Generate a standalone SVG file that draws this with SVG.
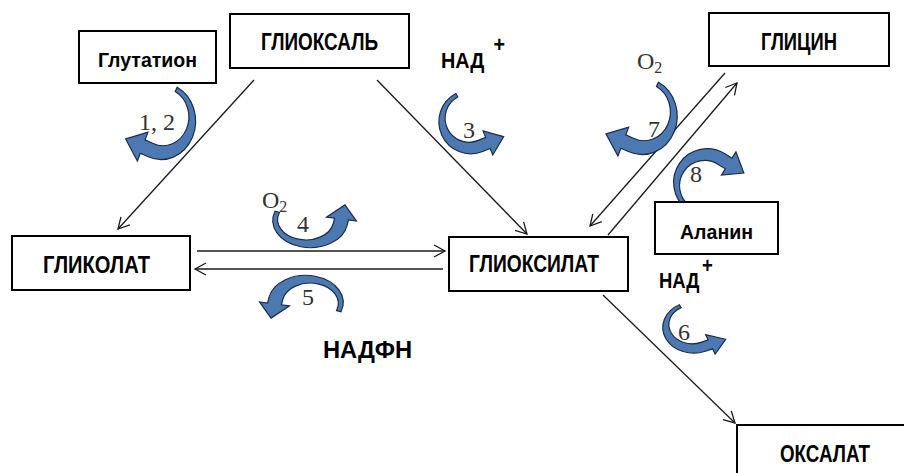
<svg xmlns="http://www.w3.org/2000/svg" xmlns:xlink="http://www.w3.org/1999/xlink" width="904" height="473" viewBox="0 0 904 473">
<style>
.box{fill:#fff;stroke:#000;stroke-width:2}
.lbl{font-family:"Liberation Sans Narrow","Liberation Sans",Arial,sans-serif;font-weight:bold;fill:#000}
.num{font-family:"Liberation Serif","Times New Roman",serif;fill:#333;font-size:24px}
.conn{stroke:#1a1a1a;stroke-width:1.3;fill:none;marker-end:url(#ah)}
.curl{fill:#4c79b2;stroke:#1c2b47;stroke-width:1.2}
</style>
<defs>
<marker id="ah" markerWidth="14" markerHeight="14" refX="11" refY="6" orient="auto" markerUnits="userSpaceOnUse" overflow="visible">
<path d="M0,0 L11,6 L0,12" fill="none" stroke="#1a1a1a" stroke-width="1.3"/>
</marker>
<path id="curl" class="curl" vector-effect="non-scaling-stroke" d="M14.08,-26.49 A32,32 0 0 1 -12.74,31.52 L-20.16,28.52 L-22.78,35.01 L-33.67,16.59 L-13.04,10.91 L-15.66,17.40 L-8.24,20.40 A24,24 0 0 0 12.21,-22.96 Z"/>
<path id="hook" class="curl" vector-effect="non-scaling-stroke" d="M-28.19,-10.26 A32,32 0 1 0 33.48,5.90 L34.52,-0.01 L41.41,1.21 L31.56,-17.79 L15.81,-3.31 L22.71,-2.09 L21.67,3.82 A24,24 0 1 1 -24.43,-8.89 Z"/>
</defs>
<rect width="904" height="473" fill="#fff"/>

<g id="connectors">
<line class="conn" x1="254" y1="80" x2="118" y2="229"/>
<line class="conn" x1="377" y1="80" x2="527" y2="234"/>
<line class="conn" x1="197" y1="251" x2="445" y2="251"/>
<line class="conn" x1="443" y1="269" x2="195" y2="269"/>
<line class="conn" x1="608" y1="235" x2="737" y2="83"/>
<line class="conn" x1="725" y1="73" x2="590" y2="226"/>
<line class="conn" x1="603" y1="295" x2="735" y2="423"/>
</g>

<g id="reactions">
<use xlink:href="#curl" href="#curl" transform="translate(162,119) scale(1.08,1.2)"/>
<use xlink:href="#curl" href="#curl" transform="translate(470,120) scale(-1,1)"/>
<use xlink:href="#curl" href="#curl" transform="translate(643,114) scale(1.1,1.2)"/>
<use xlink:href="#curl" href="#curl" transform="translate(706,184) rotate(190) scale(1.05)"/>
<use xlink:href="#curl" href="#curl" transform="translate(693,326) scale(-0.97,0.8)"/>
<use xlink:href="#hook" href="#hook" transform="translate(308,220) scale(1.17,0.85)"/>
<use xlink:href="#hook" href="#hook" transform="translate(308,303) rotate(180) scale(1.17,0.85)"/>
</g>

<g id="node-glutation">
<rect class="box" x="79" y="31" width="137" height="52"/>
<text class="lbl" x="98" y="67" font-size="20" textLength="99" lengthAdjust="spacingAndGlyphs">Глутатион</text>
</g>
<g id="node-glioksal">
<rect class="box" x="230" y="14" width="179" height="54"/>
<text class="lbl" x="261" y="50" font-size="24" textLength="117" lengthAdjust="spacingAndGlyphs">ГЛИОКСАЛЬ</text>
</g>
<g id="node-glicin">
<rect class="box" x="709" y="13" width="180" height="53"/>
<text class="lbl" x="761" y="50" font-size="24" textLength="76" lengthAdjust="spacingAndGlyphs">ГЛИЦИН</text>
</g>
<g id="node-alanin">
<rect class="box" x="655" y="202" width="123" height="52"/>
<text class="lbl" x="680" y="239" font-size="21" textLength="73" lengthAdjust="spacingAndGlyphs">Аланин</text>
</g>
<g id="node-glikolat">
<rect class="box" x="12" y="236" width="178" height="54"/>
<text class="lbl" x="43" y="273" font-size="24" textLength="107" lengthAdjust="spacingAndGlyphs">ГЛИКОЛАТ</text>
</g>
<g id="node-glioksilat">
<rect class="box" x="449" y="237" width="179" height="54"/>
<text class="lbl" x="469" y="272" font-size="24" textLength="130" lengthAdjust="spacingAndGlyphs">ГЛИОКСИЛАТ</text>
</g>
<g id="node-oksalat">
<rect class="box" x="737" y="425" width="180" height="60"/>
<text class="lbl" x="780" y="462" font-size="24" textLength="90" lengthAdjust="spacingAndGlyphs">ОКСАЛАТ</text>
</g>

<g id="cofactors">
<text class="lbl" transform="translate(441,68) scale(0.9,1)" font-size="22">НАД<tspan dx="10" dy="-16">+</tspan></text>
<text class="lbl" transform="translate(659,288) scale(0.84,1)" font-size="22">НАД<tspan dx="3" dy="-15">+</tspan></text>
<text class="lbl" x="323" y="358" font-size="24" textLength="89" lengthAdjust="spacingAndGlyphs">НАДФН</text>
<text class="num" x="637" y="69">O<tspan font-size="16" dy="4">2</tspan></text>
<text class="num" x="262" y="208">O<tspan font-size="16" dy="4">2</tspan></text>
</g>

<g id="numbers">
<text class="num" x="139" y="130" font-size="25">1, 2</text>
<text class="num" x="463" y="138">3</text>
<text class="num" x="297" y="232">4</text>
<text class="num" x="302" y="305">5</text>
<text class="num" x="678" y="340">6</text>
<text class="num" x="648" y="137">7</text>
<text class="num" x="690" y="182">8</text>
</g>
</svg>
